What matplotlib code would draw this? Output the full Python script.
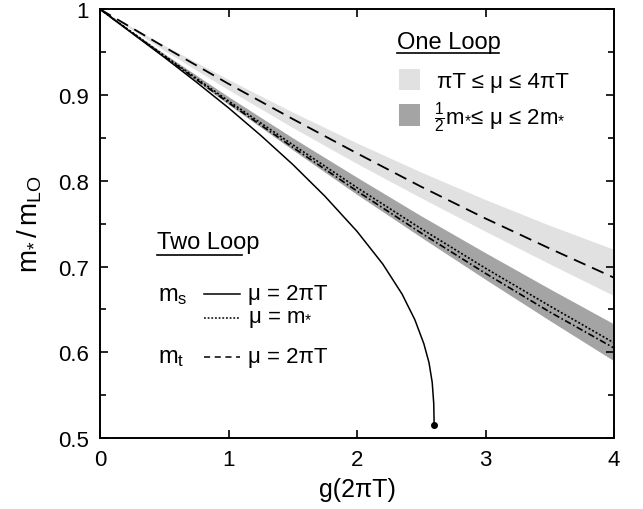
import numpy as np
import matplotlib
matplotlib.use('Agg')
import matplotlib.pyplot as plt
from matplotlib.patches import Rectangle
from matplotlib.lines import Line2D

plt.rcParams['font.family'] = ['Liberation Sans', 'DejaVu Sans']
plt.rcParams['mathtext.fontset'] = 'custom'
plt.rcParams['mathtext.rm'] = 'Liberation Sans'
plt.rcParams['mathtext.it'] = 'Liberation Sans'
plt.rcParams['mathtext.default'] = 'regular'

# one loop, light band: pi T <= mu <= 4 pi T
g_band = [0, 0.5, 1, 1.5, 2, 2.5, 3, 3.5, 4]
light_lo = [1, 0.952, 0.906, 0.862, 0.820, 0.780, 0.741, 0.703, 0.666]
light_hi = [1, 0.958, 0.918, 0.880, 0.844, 0.810, 0.778, 0.748, 0.720]
# one loop, dark band: m*/2 <= mu <= 2 m*
dark_lo = [1, 0.944, 0.889, 0.836, 0.784, 0.734, 0.685, 0.637, 0.590]
dark_hi = [1, 0.948, 0.898, 0.850, 0.804, 0.759, 0.716, 0.674, 0.633]

# two loop curves
g_line = [0, 0.5, 1, 1.5, 2, 2.5, 3, 3.5, 4]
mt_2piT = [1, 0.956, 0.913, 0.872, 0.832, 0.793, 0.756, 0.721, 0.687]
ms_mstar = [1, 0.946, 0.893, 0.842, 0.792, 0.744, 0.698, 0.654, 0.611]
mt_mstar = [1, 0.945, 0.891, 0.839, 0.788, 0.739, 0.692, 0.647, 0.605]

g_ms = [0, 0.25, 0.5, 0.75, 1, 1.25, 1.5, 1.75, 2, 2.2, 2.35, 2.45, 2.52,
        2.56, 2.585, 2.597, 2.6]
ms_2piT = [1, 0.972, 0.944, 0.915, 0.885, 0.853, 0.819, 0.782, 0.741, 0.703,
           0.668, 0.638, 0.610, 0.588, 0.565, 0.540, 0.515]

fig = plt.figure(figsize=(6.43, 5.10), dpi=100)
ax = fig.add_axes([0.1555, 0.139, 0.7995, 0.841])

ax.fill_between(g_band, light_lo, light_hi, color='#e1e1e1', lw=0)
ax.fill_between(g_band, dark_lo, dark_hi, color='#a4a4a4', lw=0)

ax.plot(g_line, mt_2piT, color='black', lw=1.3, dashes=(7, 4))
ax.plot(g_line, ms_mstar, color='black', lw=1.2, dashes=(1.2, 1.2))
ax.plot(g_line, mt_mstar, color='black', lw=1.2, dashes=(4, 1.5, 1, 1.5))
ax.plot(g_ms, ms_2piT, color='black', lw=1.1)
ax.plot(g_ms[-1], ms_2piT[-1], 'o', color='black', ms=4)

ax.set_xlim(0, 4)
ax.set_ylim(0.5, 1)
ax.set_xticks([0, 1, 2, 3, 4])
ax.set_xticklabels(['0', '1', '2', '3', '4'])
ax.set_yticks([0.5, 0.6, 0.7, 0.8, 0.9, 1.0])
ax.set_yticklabels(['0.5', '0.6', '0.7', '0.8', '0.9', '1'])
ax.set_yticks(np.arange(0.55, 1.0, 0.1), minor=True)
ax.tick_params(which='both', direction='in', top=True, right=True, labelsize=16,
               width=1.2, pad=8)
ax.tick_params(which='major', length=6)
ax.tick_params(which='minor', length=4)
for s in ax.spines.values():
    s.set_linewidth(1.4)

ax.set_xlabel('g(2πT)', fontsize=18, labelpad=5)
ax.set_ylabel(r'$m_{*}\,/\,m_{LO}$', fontsize=20, labelpad=10)

# one loop legend
tr = ax.transAxes
ax.text(0.577, 0.923, 'One Loop', transform=tr, fontsize=17, va='center')
ax.add_line(Line2D([0.577, 0.777], [0.897, 0.897], transform=tr, color='black', lw=1.2))
ax.add_patch(Rectangle((0.582, 0.811), 0.041, 0.049, transform=tr, color='#e1e1e1', lw=0))
ax.add_patch(Rectangle((0.582, 0.727), 0.041, 0.051, transform=tr, color='#a4a4a4', lw=0))
ax.text(0.655, 0.832, 'πT ≤ μ ≤ 4πT', transform=tr, fontsize=16, va='center')
ax.text(0.650, 0.750, r'$\frac{1}{2}$m$_{*}$≤ μ ≤ 2m$_{*}$', transform=tr, fontsize=16, va='center')

# two loop legend
ax.text(0.111, 0.458, 'Two Loop', transform=tr, fontsize=17, va='center')
ax.add_line(Line2D([0.111, 0.276], [0.427, 0.427], transform=tr, color='black', lw=1.2))
ax.text(0.113, 0.333, r'm$_{s}$', transform=tr, fontsize=17, va='center')
ax.text(0.113, 0.190, r'm$_{t}$', transform=tr, fontsize=17, va='center')
ax.add_line(Line2D([0.202, 0.272], [0.337, 0.337], transform=tr, color='black', lw=1.1))
ax.add_line(Line2D([0.202, 0.272], [0.279, 0.279], transform=tr, color='black', lw=1.1,
                   dashes=(1.2, 1.2)))
ax.add_line(Line2D([0.202, 0.272], [0.190, 0.190], transform=tr, color='black', lw=1.1,
                   dashes=(4, 3)))
ax.text(0.288, 0.337, 'μ = 2πT', transform=tr, fontsize=16, va='center')
ax.text(0.288, 0.279, r'μ = m$_{*}$', transform=tr, fontsize=16, va='center')
ax.text(0.288, 0.190, 'μ = 2πT', transform=tr, fontsize=16, va='center')

fig.savefig('out.png', dpi=100)
